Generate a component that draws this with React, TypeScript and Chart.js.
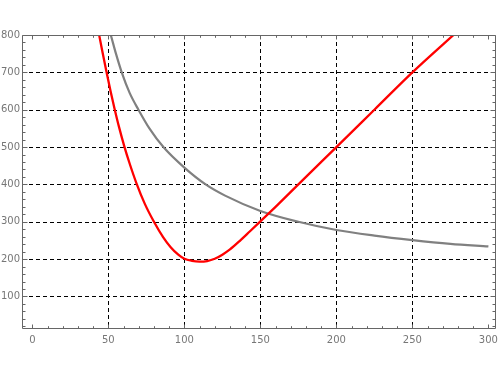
import React, { useEffect, useRef } from "react";
import { Chart, registerables } from "chart.js";

Chart.register(...registerables);

// Red curve
const redX = [42, 44, 46, 49, 51.5, 54, 57, 60.5, 64, 68.5, 74, 80, 86, 91, 96, 100, 105, 110, 115, 120, 125, 130, 137, 143, 150, 160, 175, 200, 225, 250, 280];
const redY = [842, 799, 757, 697, 649, 604, 554, 502, 456, 403, 348, 300, 259, 232, 212, 201, 195.5, 193.5, 195, 201, 212, 226, 251, 274, 301, 340, 400, 500, 600, 700, 811];

// Gray curve
const grayX = [50, 51.6, 55, 58.8, 64, 69.8, 77, 86.2, 100, 114, 126.8, 150, 175, 200, 225, 250, 275, 300];
const grayY = [822, 800, 750, 700, 645, 600, 550, 500, 445, 400, 370, 329, 300, 278, 263, 251, 241, 234];

const xTicks = [0, 50, 100, 150, 200, 250, 300];
const yTicks = [100, 200, 300, 400, 500, 600, 700, 800];
const xGridValues = [50, 100, 150, 200, 250];
const yGridValues = [100, 200, 300, 400, 500, 600, 700];

const X_MIN = -6.8;
const X_MAX = 305;
const Y_MIN = 13;
const Y_MAX = 800;

const FRAME = "#666666";

const framePlugin = {
  id: "mmaFrame",
  beforeDatasetsDraw(chart: any) {
    const { ctx, chartArea: a, scales } = chart;
    const x = scales.x;
    const y = scales.y;
    ctx.save();
    ctx.strokeStyle = "#000000";
    ctx.lineWidth = 1;
    ctx.setLineDash([4, 3]);
    for (const v of xGridValues) {
      const px = Math.round(x.getPixelForValue(v)) + 0.5;
      ctx.beginPath();
      ctx.moveTo(px, a.top);
      ctx.lineTo(px, a.bottom);
      ctx.stroke();
    }
    for (const v of yGridValues) {
      const py = Math.round(y.getPixelForValue(v)) + 0.5;
      ctx.beginPath();
      ctx.moveTo(a.left, py);
      ctx.lineTo(a.right, py);
      ctx.stroke();
    }
    ctx.restore();
  },
  afterDatasetsDraw(chart: any) {
    const { ctx, chartArea: a, scales } = chart;
    const x = scales.x;
    const y = scales.y;
    ctx.save();
    ctx.strokeStyle = FRAME;
    ctx.lineWidth = 1;
    ctx.setLineDash([]);
    const L = Math.round(a.left) + 0.5;
    const R = Math.round(a.right) - 0.5;
    const T = Math.round(a.top) + 0.5;
    const B = Math.round(a.bottom) - 0.5;
    ctx.beginPath();
    ctx.rect(L, T, R - L, B - T);
    ctx.stroke();
    ctx.beginPath();
    for (let v = 0; v <= 300; v += 10) {
      const major = v % 50 === 0;
      const len = major ? 4 : 2.3;
      const px = Math.round(x.getPixelForValue(v)) + 0.5;
      ctx.moveTo(px, B);
      ctx.lineTo(px, B - len);
      ctx.moveTo(px, T);
      ctx.lineTo(px, T + len);
    }
    for (let v = 20; v <= 800; v += 20) {
      const major = v % 100 === 0;
      const len = major ? 5 : 3;
      const py = Math.round(y.getPixelForValue(v)) + 0.5;
      ctx.moveTo(L, py);
      ctx.lineTo(L + len, py);
      ctx.moveTo(R, py);
      ctx.lineTo(R - len, py);
    }
    ctx.stroke();
    ctx.restore();
  },
};

export default function App() {
  const ref = useRef<HTMLCanvasElement | null>(null);

  useEffect(() => {
    document.body.style.margin = "0";
    const canvas = ref.current;
    if (!canvas) return;
    const chart = new Chart(canvas, {
      type: "line",
      data: {
        datasets: [
          {
            label: "red",
            data: redX.map((v, i) => ({ x: v, y: redY[i] })),
            borderColor: "#ff0000",
            borderWidth: 2.3,
            pointRadius: 0,
            fill: false,
            cubicInterpolationMode: "monotone",
          },
          {
            label: "gray",
            data: grayX.map((v, i) => ({ x: v, y: grayY[i] })),
            borderColor: "#808080",
            borderWidth: 2.2,
            pointRadius: 0,
            fill: false,
            cubicInterpolationMode: "monotone",
          },
        ],
      },
      plugins: [framePlugin],
      options: {
        responsive: false,
        animation: false,
        events: [],
        layout: { padding: { top: 35, right: 4, left: 0, bottom: 0 } },
        plugins: { legend: { display: false }, tooltip: { enabled: false }, title: { display: false } },
        scales: {
          x: {
            type: "linear",
            min: X_MIN,
            max: X_MAX,
            grid: { display: false, drawTicks: false },
            border: { display: false },
            afterBuildTicks: (s: any) => {
              s.ticks = xTicks.map((v) => ({ value: v }));
            },
            afterFit: (s: any) => {
              s.height = 46;
              s.paddingLeft = 0;
              s.paddingRight = 0;
            },
            ticks: {
              color: "#777777",
              font: { family: "'DejaVu Sans', sans-serif", size: 10 },
              padding: 5,
              maxRotation: 0,
              autoSkip: false,
              callback: (v: any) => String(v),
            },
          },
          y: {
            type: "linear",
            min: Y_MIN,
            max: Y_MAX,
            grid: { display: false, drawTicks: false },
            border: { display: false },
            afterBuildTicks: (s: any) => {
              s.ticks = yTicks.map((v) => ({ value: v }));
            },
            afterFit: (s: any) => {
              s.width = 22;
              s.paddingTop = 0;
              s.paddingBottom = 0;
            },
            ticks: {
              color: "#777777",
              font: { family: "'DejaVu Sans', sans-serif", size: 10 },
              padding: 2,
              autoSkip: false,
              callback: (v: any) => String(v),
            },
          },
        },
      },
    });
    return () => chart.destroy();
  }, []);

  return (
    <div style={{ width: 500, height: 375 }}>
      <canvas ref={ref} width={500} height={375} style={{ display: "block", width: 500, height: 375 }} />
    </div>
  );
}
